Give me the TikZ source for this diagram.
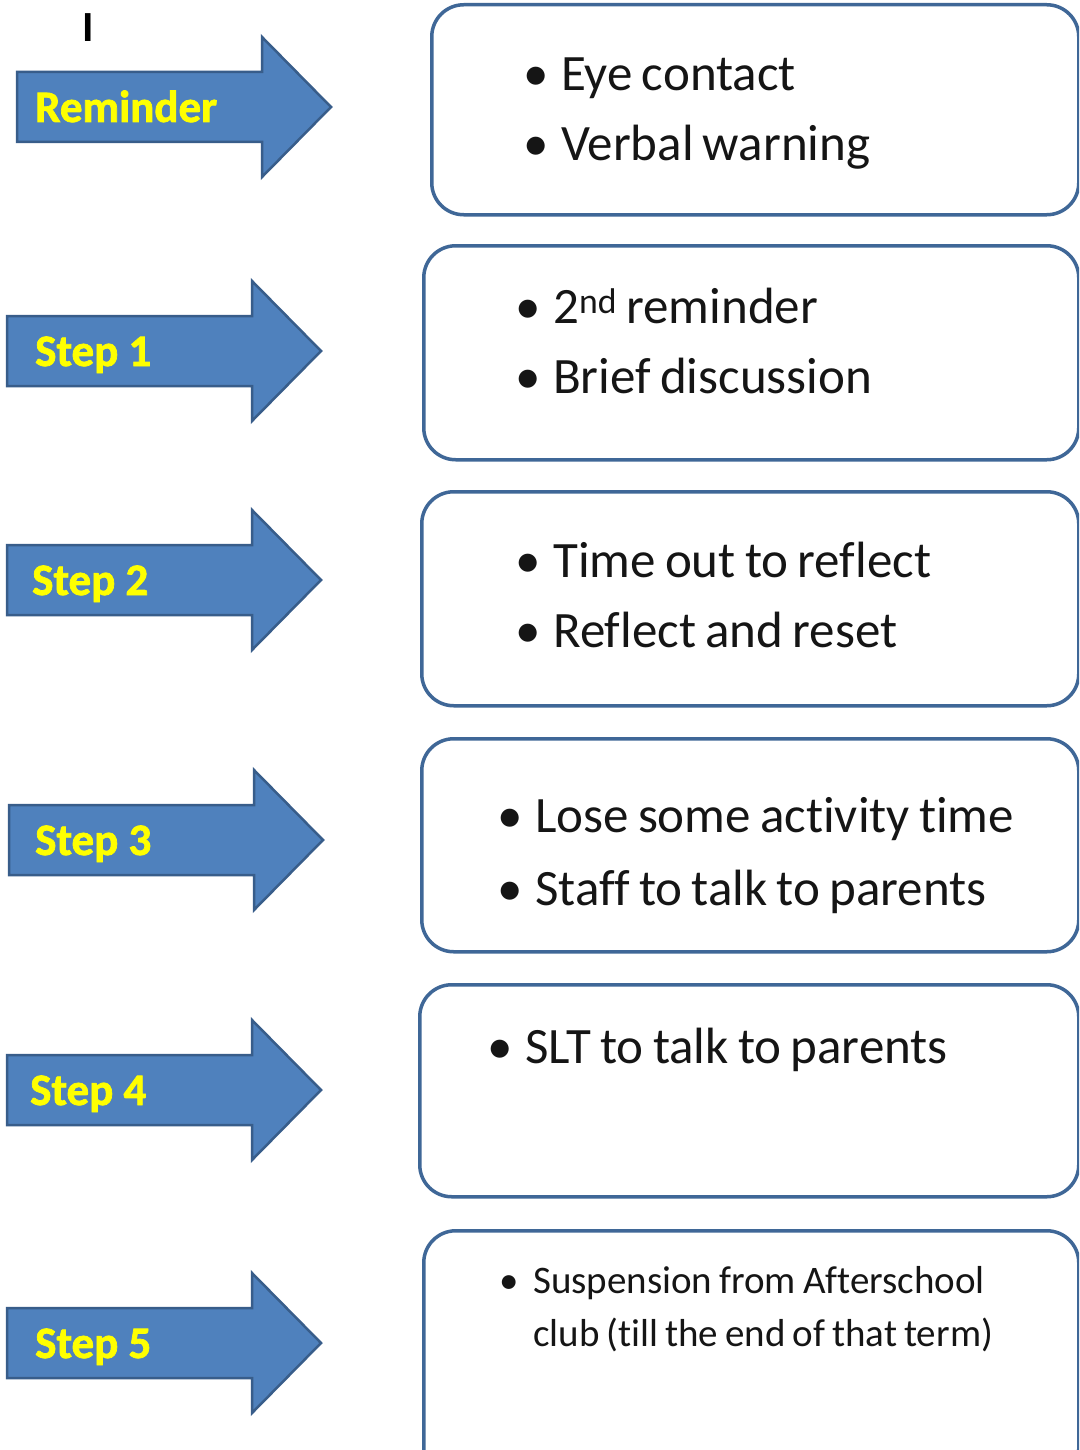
\documentclass[tikz,border=0pt]{standalone}
\usepackage{fontspec}
\setmainfont{Carlito}[Ligatures=NoCommon,WordSpace=0.8]
\newfontface\labelfont{Carlito Bold}[FakeBold=1.6]
\definecolor{arrowfill}{HTML}{4F81BD}
\definecolor{arrowline}{HTML}{385D8A}
\definecolor{boxline}{HTML}{3F6797}
\definecolor{labelyellow}{HTML}{FFFF00}
\definecolor{inktext}{HTML}{151515}
\newcommand\stagearrow[5]{%
  \begin{scope}[shift={(#1,#2)}]
    \draw[arrowshape] (0,-35) -- (245,-35) -- (245,-70) -- (314,0) -- (245,70) -- (245,35) -- (0,35) -- cycle;
    \node[arrowlabel] (#3) at (#4,15) {#5};
  \end{scope}}
\newcommand\bul[1]{\llap{\makebox[#1][l]{•}}}
\begin{document}
\begin{tikzpicture}[x=1pt,y=-1pt,
  arrowshape/.style={fill=arrowfill,draw=arrowline,line width=2.5pt,line join=miter},
  stagebox/.style={draw=boxline,line width=3.5pt,rounded corners=32pt,fill=white,anchor=north west,inner sep=0pt},
  arrowlabel/.style={anchor=base west,inner sep=0pt,text=labelyellow,font=\fontsize{45}{54}\labelfont},
  itemtext/.style={anchor=base west,inner sep=0pt,text=inktext,font=\fontsize{51}{60}\selectfont},
  smalltext/.style={anchor=base west,inner sep=0pt,text=inktext,font=\fontsize{39}{47}\selectfont}]
\useasboundingbox (0,0) rectangle (1079,1450);
\clip (0,0) rectangle (1079,1450);
\fill[white] (0,0) rectangle (1079,1450);

% stray mark
\node[anchor=base,inner sep=0pt,font=\fontsize{43}{50}\selectfont\bfseries] (mark) at (88,42) {I};

% arrows
\stagearrow{17}{107}{rem}{18}{Reminder}
\stagearrow{7}{351}{s1}{28}{Step 1}
\stagearrow{7}{580}{s2}{25}{Step 2}
\stagearrow{9}{840}{s3}{26}{Step 3}
\stagearrow{7}{1090}{s4}{23}{Step 4}
\stagearrow{7}{1343}{s5}{28}{Step 5}

% boxes
\node[stagebox,minimum width=647pt,minimum height=210pt] (b0) at (430,3) {};
\node[stagebox,minimum width=655pt,minimum height=214pt] (b1) at (422,244) {};
\node[stagebox,minimum width=657pt,minimum height=214pt] (b2) at (420,490) {};
\node[stagebox,minimum width=657pt,minimum height=213pt] (b3) at (420,737) {};
\node[stagebox,minimum width=659pt,minimum height=212pt] (b4) at (418,983) {};
\node[stagebox,minimum width=655pt,minimum height=250pt] (b5) at (422,1229) {};

% texts
\node[itemtext] (t0a) at (561,91) {\bul{38pt}Eye contact};
\node[itemtext] (t0b) at (561,161) {\bul{38pt}Verbal warning};
\node[itemtext] (t1a) at (553,323) {\bul{38pt}2\textsuperscript{nd} reminder};
\node[itemtext] (t1b) at (553,393) {\bul{38pt}Brief discussion};
\node[itemtext] (t2a) at (553,577) {\bul{38pt}Time out to reflect};
\node[itemtext] (t2b) at (553,647) {\bul{38pt}Reflect and reset};
\node[itemtext] (t3a) at (535,832) {\bul{38pt}Lose some activity time};
\node[itemtext] (t3b) at (535,905) {\bul{38pt}Staff to talk to parents};
\node[itemtext] (t4a) at (525,1063) {\bul{38pt}SLT to talk to parents};
\node[smalltext] (t5a) at (533,1293) {\bul{34pt}Suspension from Afterschool};
\node[smalltext] (t5b) at (533,1346) {club (till the end of that term)};
\end{tikzpicture}
\end{document}
